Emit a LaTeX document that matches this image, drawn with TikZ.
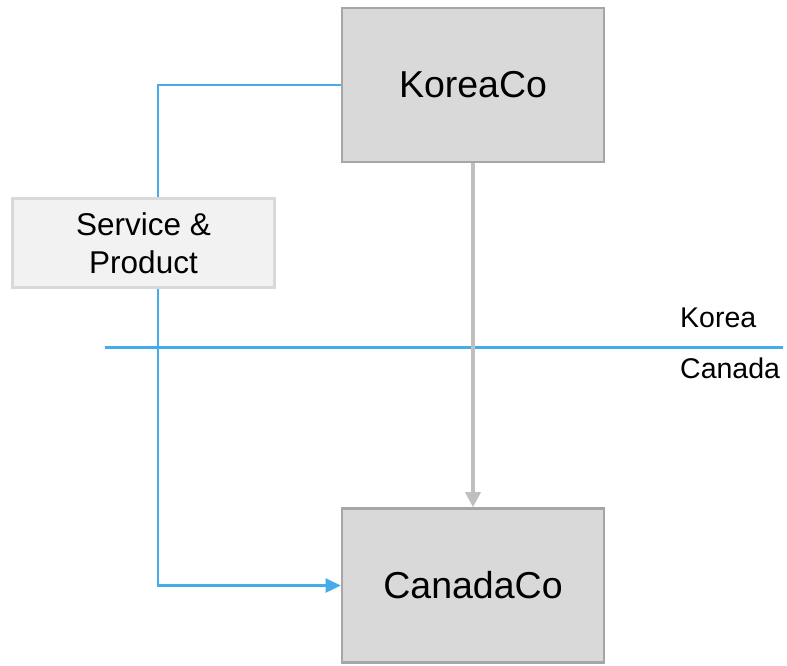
\documentclass[tikz,border=0pt]{standalone}
\usepackage{fontspec}
\setmainfont{Liberation Sans}
\usetikzlibrary{arrows.meta}
\definecolor{flowblue}{HTML}{45ACEB}
\definecolor{boxfill}{HTML}{D9D9D9}
\definecolor{boxline}{HTML}{A6A6A6}
\definecolor{tagfill}{HTML}{F2F2F2}
\definecolor{tagline}{HTML}{D9D9D9}
\definecolor{arrowgray}{HTML}{BFBFBF}
\tikzset{
  company/.style={draw=boxline, line width=2.6pt, fill=boxfill, minimum width=262pt, minimum height=154pt, inner sep=0pt, font=\fontsize{37.5}{40}\selectfont},
  tagbox/.style={draw=tagline, line width=2.4pt, fill=tagfill, minimum width=262pt, minimum height=89pt, inner sep=0pt, align=center, font=\fontsize{31.5}{38}\selectfont},
  flow/.style={draw=flowblue, line width=2.6pt},
  region/.style={anchor=base west, inner sep=0pt, font=\fontsize{28.5}{30}\selectfont},
}
\begin{document}
\begin{tikzpicture}[x=1pt,y=-1pt]
  \useasboundingbox (0,0) rectangle (787,665);
  % companies
  \node[company] (korea) at (473,85) {KoreaCo};
  \node[company] (canada) at (473,585.5) {CanadaCo};
  % flow label
  \node[tagbox] (svc) at (143.5,243) {Service \&\\Product};
  % border between countries
  \coordinate (bl) at (105,347.5);
  \coordinate (br) at (783,347.5);
  \draw[flow] (bl) -- (br);
  \node[region] (kr) at (680,327.5) {Korea};
  \node[region] (ca) at (680,378) {Canada};
  % service and product flow
  \coordinate (bend) at (158,85);
  \draw[flow] (korea.west) -- (bend) -- (bend |- svc.north);
  \draw[flow, -{Triangle[length=15pt,width=14pt]}] (bend |- svc.south) |- (canada.west);
  % ownership
  \draw[draw=arrowgray, line width=3.4pt, -{Triangle[length=15pt,width=15pt]}] (korea.south) -- (canada.north);
\end{tikzpicture}
\end{document}
